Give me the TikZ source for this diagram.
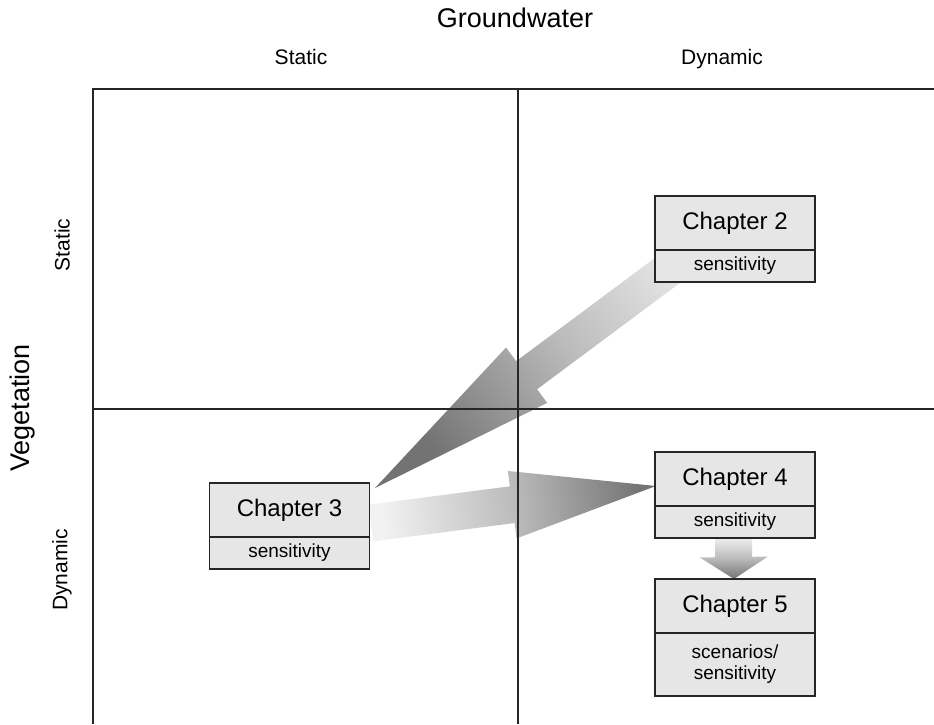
\documentclass[tikz,border=0pt]{standalone}
\usepackage{fontspec}
\setmainfont{Liberation Sans}
\usetikzlibrary{calc,positioning}
\definecolor{boxgray}{HTML}{E6E6E6}
\definecolor{arrowlight}{HTML}{F2F2F2}
\definecolor{arrowmid}{HTML}{BCBCBC}
\definecolor{arrowdark}{HTML}{737373}
\tikzset{
  titlebox/.style={draw=black!85, line width=1.1pt, fill=boxgray,
    minimum width=160pt, minimum height=54pt, inner sep=0pt, outer sep=0pt,
    font=\fontsize{24}{28}\selectfont},
  subbox/.style={titlebox, minimum height=32pt, align=center,
    font=\fontsize{19}{21}\selectfont},
  frameline/.style={line width=1.3pt, draw=black!85},
  axislabel/.style={inner sep=0pt, font=\fontsize{21}{25}\selectfont},
  biglabel/.style={inner sep=0pt, font=\fontsize{27}{32}\selectfont},
}
% #1 tail, #2 tip, #3 shaft half width, #4 head half width, #5 head length, #6 shading angle
\newcommand\blkarrow[6]{%
  \coordinate (ba-h) at ($(#2)!#5!(#1)$);
  \path[top color=arrowlight, bottom color=arrowdark, middle color=arrowmid, shading angle=#6]
    ($(#1)!#3!90:(#2)$) -- ($(ba-h)!#3!90:(#2)$) -- ($(ba-h)!#4!90:(#2)$)
    -- (#2) -- ($(ba-h)!#4!-90:(#2)$) -- ($(ba-h)!#3!-90:(#2)$)
    -- ($(#1)!#3!-90:(#2)$) -- cycle;
}
\begin{document}
\begin{tikzpicture}[x=1pt,y=-1pt]
\useasboundingbox (0,0) rectangle (934,724);
% box positions (title parts)
\coordinate (p2) at (735,223);
\coordinate (p3) at (289.5,510);
\coordinate (p4) at (735,479);
\coordinate (p5) at (735,606);
% arrows (drawn first; frame lines and boxes on top)
\coordinate (a1t) at ($(p2)+(11,-11)$);
\coordinate (a1h) at ($(p3)+(85.5,-22)$);
\blkarrow{a1t}{a1h}{17.5pt}{34.5pt}{189pt}{-53.13}
\coordinate (a2t) at ($(p3)+(81.5,13)$);
\coordinate (a2h) at ($(p4)+(-79,7)$);
\blkarrow{a2t}{a2h}{18.5pt}{34pt}{145pt}{97.5}
\coordinate (a3t) at ($(p4)+(-1.5,58)$);
\coordinate (a3h) at ($(p5)+(-1,-27)$);
\blkarrow{a3t}{a3h}{18.5pt}{34pt}{22pt}{0}
% frame
\coordinate (ftl) at (93,89);
\coordinate (ftr) at (934,89);
\coordinate (fbl) at (93,724);
\coordinate (vtop) at (518,89);
\coordinate (vbot) at (518,724);
\coordinate (hl) at (93,409);
\coordinate (hr) at (934,409);
\draw[frameline] (fbl) -- (ftl) -- (ftr);
\draw[frameline] (vtop) -- (vbot);
\draw[frameline] (hl) -- (hr);
% labels
\node[biglabel] (gw) at (515,18) {Groundwater};
\node[axislabel, anchor=base] (gs) at (301,64) {Static};
\node[axislabel, anchor=base] (gd) at (722,64) {Dynamic};
\node[biglabel, rotate=90] (veg) at (23,408) {Vegetation};
\node[axislabel, rotate=90] (vs) at (62,245) {Static};
\node[axislabel, rotate=90] (vd) at (62,570) {Dynamic};
% boxes
\node[titlebox] (c2) at (p2) {Chapter 2};
\node[subbox, below=0pt of c2] (c2s) {sensitivity};
\node[titlebox] (c3) at (p3) {Chapter 3};
\node[subbox, below=0pt of c3] (c3s) {sensitivity};
\node[titlebox] (c4) at (p4) {Chapter 4};
\node[subbox, below=0pt of c4] (c4s) {sensitivity};
\node[titlebox] (c5) at (p5) {Chapter 5};
\node[subbox, minimum height=63pt, below=0pt of c5] (c5s) {scenarios/\\sensitivity};
\end{tikzpicture}
\end{document}
